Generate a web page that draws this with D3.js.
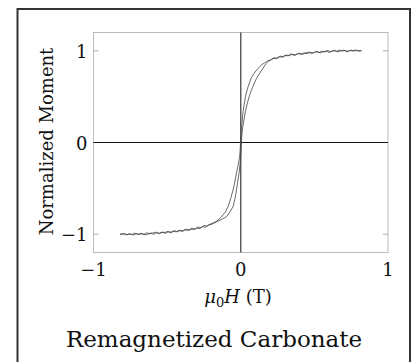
<!DOCTYPE html>
<html>
<head>
<meta charset="utf-8">
<script src="https://cdn.jsdelivr.net/npm/d3@7"></script>
<style>
  body { margin: 0; background: #fff; }
  svg { display: block; }
  text { font-family: "DejaVu Serif", serif; fill: #111; }
</style>
</head>
<body>
<svg id="chart" width="417" height="362"></svg>
<script>
// descending branch (field swept +0.82 T -> -0.82 T)
const downH = [0.82, 0.80, 0.78, 0.76, 0.74, 0.72, 0.70, 0.68, 0.66, 0.64, 0.62, 0.60, 0.58, 0.56, 0.54, 0.52, 0.50, 0.48, 0.46, 0.44, 0.42, 0.40, 0.38, 0.36, 0.34, 0.32, 0.30, 0.28, 0.26, 0.24, 0.22, 0.20,
  0.19, 0.175, 0.16, 0.145, 0.13, 0.11, 0.09, 0.07, 0.05, 0.034, 0.016, 0.005, 0.0, -0.004, -0.008, -0.018, -0.029, -0.04, -0.052, -0.068, -0.086, -0.105, -0.131, -0.16, -0.19,
  -0.21, -0.23, -0.25, -0.27, -0.29, -0.31, -0.33, -0.35, -0.37, -0.39, -0.41, -0.43, -0.45, -0.47, -0.49, -0.51, -0.53, -0.55, -0.57, -0.59, -0.61, -0.63, -0.65, -0.67, -0.69, -0.71, -0.73, -0.75, -0.77, -0.79, -0.81, -0.82];
const downM = [1.002, 0.996, 1.009, 0.999, 1.004, 0.990, 1.007, 1.001, 0.988, 1.003, 0.995, 0.984, 0.998, 0.990, 0.978, 0.993, 0.984, 0.972, 0.985, 0.976, 0.962, 0.975, 0.961, 0.952, 0.966, 0.945, 0.951, 0.930, 0.938, 0.914, 0.921, 0.898,
  0.896, 0.884, 0.866, 0.852, 0.830, 0.795, 0.752, 0.700, 0.610, 0.520, 0.340, 0.160, 0.050, -0.080, -0.160, -0.250, -0.330, -0.430, -0.516, -0.610, -0.700, -0.760, -0.810, -0.855, -0.880,
  -0.892, -0.912, -0.905, -0.931, -0.922, -0.945, -0.936, -0.958, -0.944, -0.966, -0.957, -0.975, -0.962, -0.984, -0.970, -0.990, -0.976, -0.993, -0.982, -1.002, -0.987, -0.998, -1.008, -0.991, -1.004, -0.995, -1.010, -0.996, -1.006, -0.994, -1.003, -0.998];

// ascending branch (field swept -0.82 T -> +0.82 T)
const upH = [-0.82, -0.80, -0.78, -0.76, -0.74, -0.72, -0.70, -0.68, -0.66, -0.64, -0.62, -0.60, -0.58, -0.56, -0.54, -0.52, -0.50, -0.48, -0.46, -0.44, -0.42, -0.40, -0.38, -0.36, -0.34, -0.32, -0.30, -0.28, -0.26, -0.24, -0.22, -0.20,
  -0.16, -0.13, -0.097, -0.075, -0.052, -0.04, -0.029, -0.02, -0.011, -0.005, 0.0, 0.003, 0.006, 0.012, 0.022, 0.032, 0.045, 0.061, 0.082, 0.107, 0.13, 0.151, 0.17, 0.19,
  0.21, 0.23, 0.25, 0.27, 0.29, 0.31, 0.33, 0.35, 0.37, 0.39, 0.41, 0.43, 0.45, 0.47, 0.49, 0.51, 0.53, 0.55, 0.57, 0.59, 0.61, 0.63, 0.65, 0.67, 0.69, 0.71, 0.73, 0.75, 0.77, 0.79, 0.81, 0.82];
const upM = [-1.003, -0.993, -1.007, -0.998, -1.004, -0.989, -1.001, -0.992, -1.006, -0.985, -0.996, -0.989, -0.978, -0.994, -0.980, -0.986, -0.971, -0.983, -0.966, -0.975, -0.958, -0.970, -0.950, -0.961, -0.942, -0.950, -0.934, -0.938, -0.918, -0.924, -0.902, -0.895,
  -0.862, -0.838, -0.810, -0.760, -0.700, -0.620, -0.516, -0.420, -0.330, -0.240, -0.153, -0.050, 0.050, 0.150, 0.250, 0.340, 0.430, 0.520, 0.610, 0.700, 0.760, 0.810, 0.858, 0.888,
  0.905, 0.925, 0.918, 0.942, 0.933, 0.955, 0.946, 0.964, 0.953, 0.972, 0.960, 0.978, 0.968, 0.986, 0.975, 0.992, 0.980, 0.996, 0.987, 1.003, 0.990, 1.006, 0.994, 1.009, 0.997, 1.005, 0.993, 1.008, 0.998, 1.006, 0.999, 1.003];

const xTicks = [-1, 0, 1];
const yTicks = [-1, 0, 1];

const svg = d3.select("#chart");

// outer frame
svg.append("rect")
  .attr("x", 17.5).attr("y", 9)
  .attr("width", 392.5).attr("height", 370)
  .attr("fill", "none")
  .attr("stroke", "#333")
  .attr("stroke-width", 2);

const plotL = 93.5, plotR = 388, plotT = 32.5, plotB = 252.5;

const x = d3.scaleLinear().domain([-1, 1]).range([plotL, plotR]);
const y = d3.scaleLinear().domain([-1.2, 1.2]).range([plotB, plotT]);

// plot box
svg.append("rect")
  .attr("x", plotL).attr("y", plotT)
  .attr("width", plotR - plotL).attr("height", plotB - plotT)
  .attr("fill", "none")
  .attr("stroke", "#bbb")
  .attr("stroke-width", 1);

// small inner ticks at +-1 on both sides
yTicks.filter(d => d !== 0).forEach(d => {
  svg.append("line")
    .attr("x1", plotL).attr("x2", plotL + 5)
    .attr("y1", y(d)).attr("y2", y(d))
    .attr("stroke", "#aaa");
  svg.append("line")
    .attr("x1", plotR - 5).attr("x2", plotR)
    .attr("y1", y(d)).attr("y2", y(d))
    .attr("stroke", "#aaa");
});

// zero lines
svg.append("line")
  .attr("x1", plotL).attr("x2", plotR)
  .attr("y1", y(0)).attr("y2", y(0))
  .attr("stroke", "#111")
  .attr("stroke-width", 1.2);
svg.append("line")
  .attr("x1", x(0)).attr("x2", x(0))
  .attr("y1", plotT).attr("y2", plotB)
  .attr("stroke", "#555")
  .attr("stroke-width", 1.4);

// tick labels
const fmt = d3.format("d");
svg.selectAll(".xt")
  .data(xTicks).enter()
  .append("text")
  .attr("x", d => x(d))
  .attr("y", 276)
  .attr("text-anchor", "middle")
  .attr("font-size", "18px")
  .text(d => fmt(d));

svg.selectAll(".yt")
  .data(yTicks).enter()
  .append("text")
  .attr("x", 87.5)
  .attr("y", d => y(d) + 7)
  .attr("text-anchor", "end")
  .attr("font-size", "18px")
  .text(d => fmt(d));

// loop branches
const line = d3.line()
  .x(d => x(d[0]))
  .y(d => y(d[1]));

[[downH, downM], [upH, upM]].forEach(([hs, ms]) => {
  svg.append("path")
    .datum(hs.map((h, i) => [h, ms[i]]))
    .attr("d", line)
    .attr("fill", "none")
    .attr("stroke", "#444")
    .attr("stroke-width", 0.8);
});

// axis labels
const xl = svg.append("text")
  .attr("x", 238)
  .attr("y", 303)
  .attr("text-anchor", "middle")
  .attr("font-size", "18px");
xl.append("tspan").attr("font-style", "italic").text("μ");
xl.append("tspan").attr("font-size", "13px").attr("dy", 4).text("0");
xl.append("tspan").attr("font-style", "italic").attr("dy", -4).text("H");
xl.append("tspan").text(" (T)");

svg.append("text")
  .attr("transform", "translate(52.5,141.5) rotate(-90)")
  .attr("text-anchor", "middle")
  .attr("font-size", "18px")
  .text("Normalized Moment");

svg.append("text")
  .attr("x", 214)
  .attr("y", 346.5)
  .attr("text-anchor", "middle")
  .attr("font-size", "23px")
  .text("Remagnetized Carbonate");
</script>
</body>
</html>
